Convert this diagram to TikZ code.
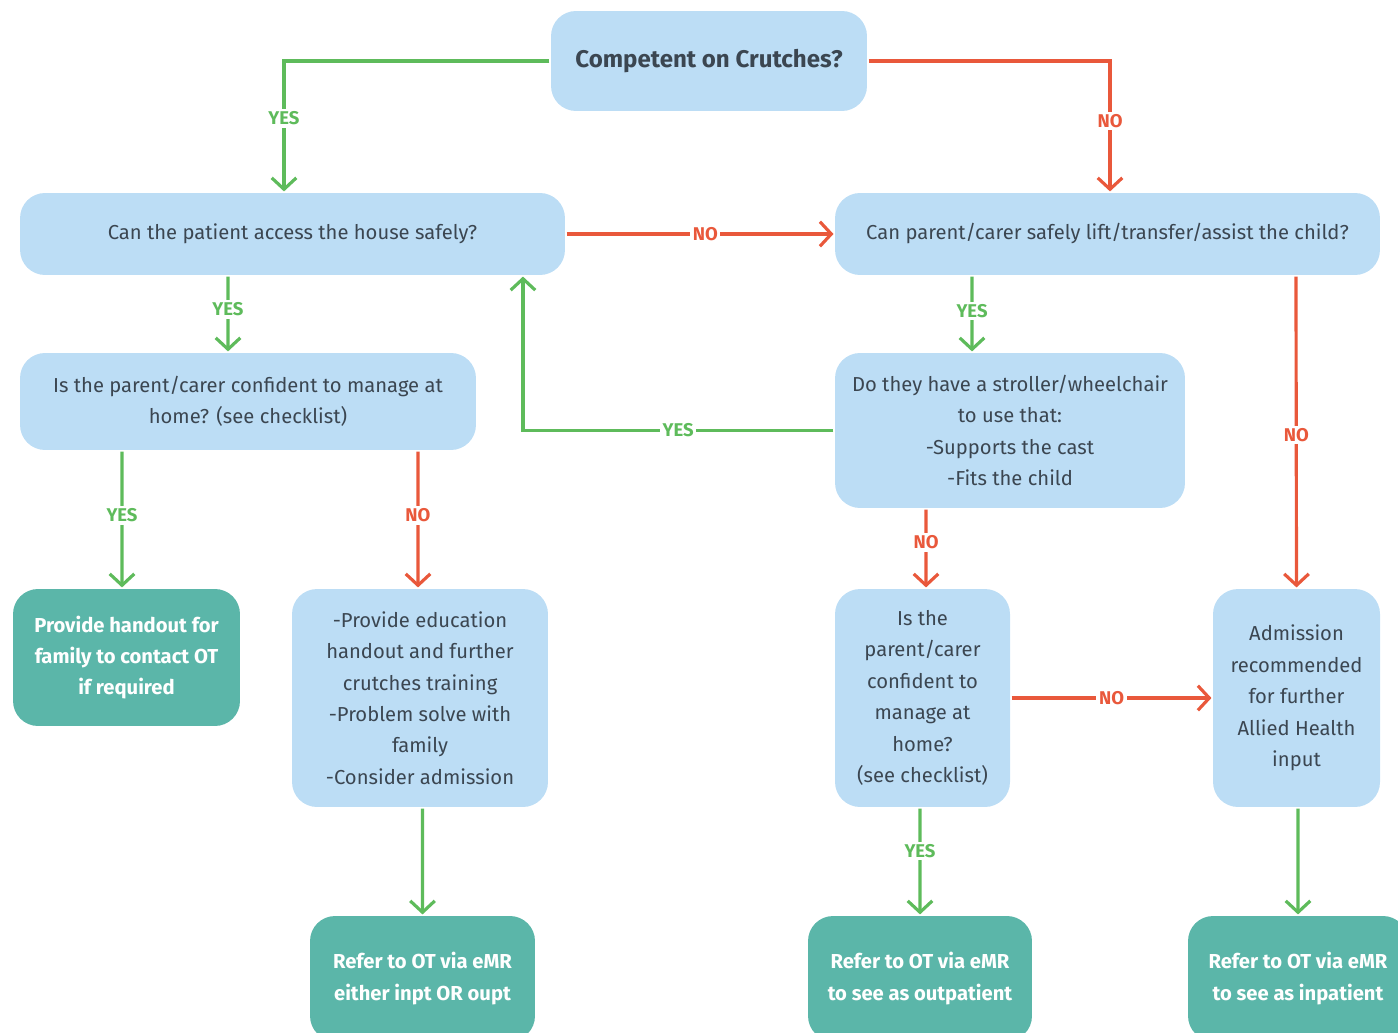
\documentclass[tikz,border=0pt]{standalone}
\usepackage{fontspec}
\setmainfont{Fira Sans}
\usetikzlibrary{arrows.meta}
\definecolor{boxblue}{HTML}{BCDDF5}
\definecolor{boxteal}{HTML}{5BB6A9}
\definecolor{yesgreen}{HTML}{5EBB5B}
\definecolor{nored}{HTML}{E9583B}
\definecolor{txtgray}{HTML}{3B4651}

\begin{document}
\begin{tikzpicture}[x=0.02cm,y=-0.02cm,>={Straight Barb[length=6.5pt,width=14pt]},line width=1.8pt]\fontsize{11.5}{17.9}\selectfont
\tikzstyle{box}=[fill=boxblue,rounded corners=0.5cm,text=txtgray,align=center,inner sep=2pt]
\tikzstyle{endbox}=[fill=boxteal,rounded corners=0.5cm,text=white,align=center,inner sep=2pt,font=\bfseries]
\tikzstyle{yes}=[->,draw=yesgreen]
\tikzstyle{no}=[->,draw=nored]
\tikzstyle{yeslbl}=[fill=white,text=yesgreen,font=\fontsize{10.5}{12}\selectfont\bfseries,inner sep=1.5pt]
\tikzstyle{nolbl}=[fill=white,text=nored,font=\fontsize{10.5}{12}\selectfont\bfseries,inner sep=1.5pt]
\useasboundingbox (0,0) rectangle (1398,1033);
\node[box,minimum width=6.32cm,minimum height=2cm] (CO) at (709,61) {\fontsize{13.7}{18}\selectfont\bfseries Competent on Crutches?};
\node[box,minimum width=10.9cm,minimum height=1.64cm] (AC) at (292.5,234) {Can the patient access the house safely?};
\node[box,minimum width=10.9cm,minimum height=1.64cm] (LI) at (1107.5,234) {Can parent/carer safely lift/transfer/assist the child?};
\node[box,minimum width=9.12cm,minimum height=1.94cm] (C1) at (248,401.5) {Is the parent/carer confident to manage at\\home? (see checklist)};
\node[box,minimum width=7cm,minimum height=3.1cm] (ST) at (1010,430.5) {Do they have a stroller/wheelchair\\to use that:\\-Supports the cast\\-Fits the child};
\node[endbox,minimum width=4.54cm,minimum height=2.74cm] (HA) at (126.5,657.5) {Provide handout for\\family to contact OT\\if required};
\node[box,minimum width=5.12cm,minimum height=4.36cm] (ED) at (420,698) {-Provide education\\handout and further\\crutches training\\-Problem solve with\\family\\-Consider admission};
\node[box,minimum width=3.5cm,minimum height=4.36cm] (C2) at (922.5,698) {Is the\\parent/carer\\confident to\\manage at\\home?\\(see checklist)};
\node[box,minimum width=3.34cm,minimum height=4.36cm] (AD) at (1296.5,698) {Admission\\recommended\\for further\\Allied Health\\input};
\node[endbox,minimum width=4.5cm,minimum height=2.5cm] (R1) at (422.5,978.5) {Refer to OT via eMR\\either inpt OR oupt};
\node[endbox,minimum width=4.48cm,minimum height=2.5cm] (R2) at (920,978.5) {Refer to OT via eMR\\to see as outpatient};
\node[endbox,minimum width=4.4cm,minimum height=2.5cm] (R3) at (1298,978.5) {Refer to OT via eMR\\to see as inpatient};

\draw[yes] (CO.west) -| node[yeslbl,pos=.72] {YES} ([xshift=-0.17cm]AC.north);
\draw[no] (CO.east) -| node[nolbl,pos=.73] {NO} ([xshift=0.05cm]LI.north);
\draw[no] (AC.east) to node[nolbl,pos=.52] {NO} (LI.west);
\draw[yes] ([xshift=-1.29cm]AC.south) to node[yeslbl,pos=.44] {YES} ([xshift=-0.4cm]C1.north);
\draw[yes] ([xshift=-2.71cm]LI.south) to node[yeslbl,pos=.46] {YES} ([xshift=-0.76cm]ST.north);
\draw[no] ([xshift=3.77cm]LI.south) to node[nolbl,pos=.51] {NO} (AD.north);
\draw[yes] (ST.west) -| node[yeslbl,pos=.25] {YES} ([xshift=4.61cm]AC.south);
\draw[yes] ([xshift=-2.52cm]C1.south) to node[yeslbl,pos=.47] {YES} ([xshift=-0.09cm]HA.north);
\draw[no] ([xshift=3.4cm]C1.south) to node[nolbl,pos=.47] {NO} ([xshift=-0.04cm]ED.north);
\draw[no] ([xshift=-1.68cm]ST.south) to node[nolbl,pos=.42] {NO} ([xshift=0.07cm]C2.north);
\draw[no] (C2.east) to node[nolbl,pos=.5] {NO} (AD.west);
\draw[yes] ([xshift=0.05cm]ED.south) to (R1.north);
\draw[yes] ([xshift=-0.05cm]C2.south) to node[yeslbl,pos=.4] {YES} (R2.north);
\draw[yes] ([xshift=0.03cm]AD.south) to (R3.north);

\end{tikzpicture}
\end{document}
